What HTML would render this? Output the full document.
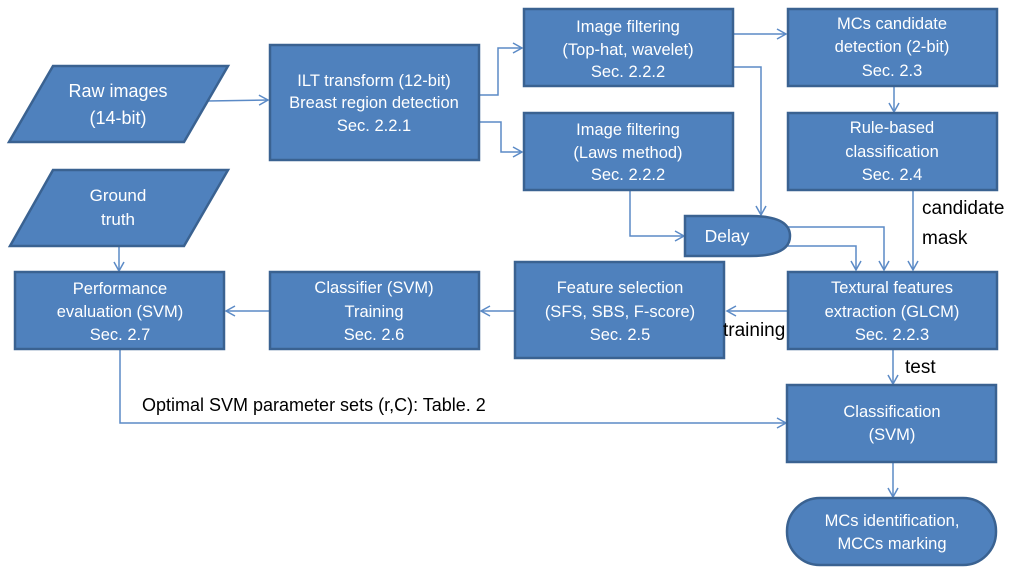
<!DOCTYPE html>
<html><head><meta charset="utf-8"><style>
html,body{margin:0;padding:0;background:#fff;}
svg{display:block;}
.b{fill:#4f81bd;stroke:#3a6291;stroke-width:2.5;}
.t{fill:#fff;font-family:"Liberation Sans",sans-serif;font-size:16.5px;text-anchor:middle;}
.l{fill:none;stroke:#5b8ac6;stroke-width:1.5;}
.k{fill:#000;font-family:"Liberation Sans",sans-serif;font-size:19px;}
</style></head><body>
<svg width="1024" height="575" viewBox="0 0 1024 575">
<defs><marker id="a" markerWidth="12" markerHeight="12" refX="10" refY="6" orient="auto" markerUnits="userSpaceOnUse"><path d="M1,1 L10,6 L1,11" fill="none" stroke="#5b8ac6" stroke-width="1.5"/></marker></defs>
<path class="l" d="M207,101 L268,100" marker-end="url(#a)"/>
<path class="l" d="M479,95 L498,95 L498,48 L522,48" marker-end="url(#a)"/>
<path class="l" d="M479,122 L501,122 L501,152 L522,152" marker-end="url(#a)"/>
<path class="l" d="M733,34 L786,34" marker-end="url(#a)"/>
<path class="l" d="M733,67 L761,67 L761,215" marker-end="url(#a)"/>
<path class="l" d="M894,86 L894,112" marker-end="url(#a)"/>
<path class="l" d="M630,190 L630,236 L684,236" marker-end="url(#a)"/>
<path class="l" d="M780,227 L884,227 L884,270" marker-end="url(#a)"/>
<path class="l" d="M780,246 L856,246 L856,270" marker-end="url(#a)"/>
<path class="l" d="M913,190 L913,270" marker-end="url(#a)"/>
<path class="l" d="M788,311 L727,311" marker-end="url(#a)"/>
<path class="l" d="M515,311 L481,311" marker-end="url(#a)"/>
<path class="l" d="M270,311 L226,311" marker-end="url(#a)"/>
<path class="l" d="M119,246 L119,271" marker-end="url(#a)"/>
<path class="l" d="M120,349 L120,423 L786,423" marker-end="url(#a)"/>
<path class="l" d="M893,349 L893,384" marker-end="url(#a)"/>
<path class="l" d="M893,462 L893,497" marker-end="url(#a)"/>
<polygon class="b" points="53,66 228,66 184,142 9,142"/>
<text class="t" x="118" y="97" style="font-size:18px">Raw images</text><text class="t" x="118" y="124" style="font-size:18px">(14-bit)</text>
<rect class="b" x="270" y="45" width="209" height="115"/>
<text class="t" x="374" y="86">ILT transform (12-bit)</text><text class="t" x="374" y="108">Breast region detection</text><text class="t" x="374" y="131">Sec. 2.2.1</text>
<polygon class="b" points="53,170 228,170 184,246 10,246"/>
<text class="t" x="118" y="201" style="font-size:17px">Ground</text><text class="t" x="118" y="225" style="font-size:17px">truth</text>
<rect class="b" x="524" y="9" width="209" height="77"/>
<text class="t" x="628" y="32">Image filtering</text><text class="t" x="628" y="55">(Top-hat, wavelet)</text><text class="t" x="628" y="77">Sec. 2.2.2</text>
<rect class="b" x="524" y="113" width="209" height="77"/>
<text class="t" x="628" y="135">Image filtering</text><text class="t" x="628" y="158">(Laws method)</text><text class="t" x="628" y="180">Sec. 2.2.2</text>
<rect class="b" x="788" y="9" width="209" height="77"/>
<text class="t" x="892" y="29">MCs candidate</text><text class="t" x="892" y="52">detection (2-bit)</text><text class="t" x="892" y="76">Sec. 2.3</text>
<rect class="b" x="788" y="113" width="209" height="77"/>
<text class="t" x="892" y="133">Rule-based</text><text class="t" x="892" y="157">classification</text><text class="t" x="892" y="180">Sec. 2.4</text>
<path class="b" d="M685,216 L750,216 Q790,216 790,236 Q790,256 750,256 L685,256 Z"/>
<text class="t" x="727" y="242" style="font-size:17.5px">Delay</text>
<rect class="b" x="788" y="272" width="209" height="77"/>
<text class="t" x="892" y="293">Textural features</text><text class="t" x="892" y="317">extraction (GLCM)</text><text class="t" x="892" y="340">Sec. 2.2.3</text>
<rect class="b" x="515" y="262" width="209" height="96"/>
<text class="t" x="620" y="293">Feature selection</text><text class="t" x="620" y="317">(SFS, SBS, F-score)</text><text class="t" x="620" y="340">Sec. 2.5</text>
<rect class="b" x="270" y="272" width="209" height="77"/>
<text class="t" x="374" y="293">Classifier (SVM)</text><text class="t" x="374" y="317">Training</text><text class="t" x="374" y="340">Sec. 2.6</text>
<rect class="b" x="15" y="272" width="209" height="77"/>
<text class="t" x="120" y="294">Performance</text><text class="t" x="120" y="317">evaluation (SVM)</text><text class="t" x="120" y="340">Sec. 2.7</text>
<rect class="b" x="787" y="385" width="209" height="77"/>
<text class="t" x="892" y="417">Classification</text><text class="t" x="892" y="440">(SVM)</text>
<rect class="b" x="787" y="498" width="209" height="67" rx="33"/>
<text class="t" x="892" y="526">MCs identification,</text><text class="t" x="892" y="549">MCCs marking</text>
<text class="k" x="922" y="214">candidate</text>
<text class="k" x="922" y="244">mask</text>
<text class="k" x="723" y="336">training</text>
<text class="k" x="905" y="373">test</text>
<text class="k" x="142" y="411" style="font-size:18px">Optimal SVM parameter sets  (r,C): Table. 2</text>
</svg>
</body></html>
